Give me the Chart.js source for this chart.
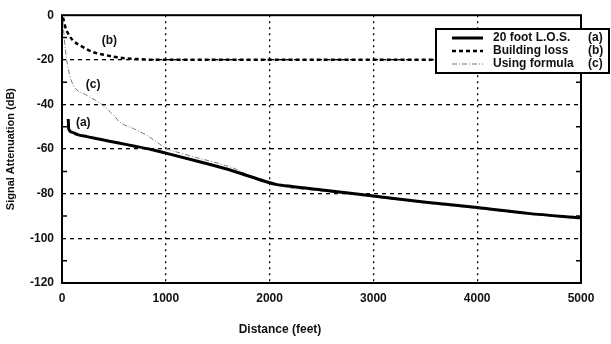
<!DOCTYPE html>
<html>
<head>
<meta charset="utf-8">
<title>Signal Attenuation vs Distance</title>
<script src="https://cdn.jsdelivr.net/npm/chart.js@4.4.1/dist/chart.umd.min.js"></script>
<style>
    html, body { margin: 0; padding: 0; background: #fff; }
    canvas { display: block; }
</style>
</head>
<body>
<canvas id="chart" width="611" height="344"></canvas>
<script>
const distanceA = [60, 65, 100, 150, 240, 390, 547, 703, 859, 1000, 1344, 1656, 1953, 2062, 2218, 2528, 3000, 3505, 4000, 4490, 5000];
const lossA = [-46.5, -51, -52.5, -53.5, -54.4, -55.8, -57.3, -58.7, -60.2, -61.8, -65.9, -69.9, -74.4, -75.8, -76.8, -78.4, -81, -83.8, -86.2, -88.8, -90.8];

const distanceB = [10, 30, 63, 110, 203, 297, 422, 547, 706, 900, 2000, 3000, 4000, 5000];
const lossB = [-1, -5, -8.6, -11.5, -14.3, -16.5, -17.9, -19, -19.6, -20, -20, -20, -20, -20];

const distanceC = [8, 25, 45, 75, 110, 235, 340, 406, 500, 560, 688, 812, 906, 1000, 1187, 1656, 1850, 2062, 2528, 3000, 3505, 4000, 4490, 5000];
const lossC = [-2, -12, -20, -27, -31.5, -35.8, -38.6, -40.8, -45, -48, -50.8, -53.7, -56.6, -59.5, -62.4, -68.6, -72.8, -76.2, -78.9, -81.4, -84.2, -86.6, -89.2, -91.1];

const seriesNames = ['20 foot L.O.S.', 'Building loss', 'Using formula'];
const seriesTags = ['(a)', '(b)', '(c)'];
// where the (a)/(b)/(c) notes sit, in feet and dB
const noteDistance = [205, 456, 300];
const noteLoss = [-48, -11.5, -31];

const xTicks = [0, 1000, 2000, 3000, 4000, 5000];
const yTicks = [0, -20, -40, -60, -80, -100, -120];
const yMinorTicks = [-10, -30, -50, -70, -90, -110];

const FONT = '"Liberation Sans", Arial, sans-serif';
const lineStyles = [
    { color: '#000', width: 3, dash: [] },
    { color: '#000', width: 2.5, dash: [4, 3] },
    { color: '#777', width: 1, dash: [5, 2, 1, 2] }
];

function toPoints(xs, ys) {
    return xs.map((x, i) => ({ x: x, y: ys[i] }));
}

const framePlugin = {
    id: 'frame',
    afterDraw(chart) {
        const ctx = chart.ctx;
        const area = chart.chartArea;
        const xs = chart.scales.x;
        const ys = chart.scales.y;
        ctx.save();

        ctx.strokeStyle = '#000';
        ctx.lineWidth = 2;
        ctx.setLineDash([]);
        ctx.strokeRect(area.left, area.top, area.right - area.left, area.bottom - area.top);

        ctx.lineWidth = 1.5;
        yMinorTicks.forEach(v => {
            const py = ys.getPixelForValue(v);
            ctx.beginPath();
            ctx.moveTo(area.left, py);
            ctx.lineTo(area.left + 5, py);
            ctx.moveTo(area.right, py);
            ctx.lineTo(area.right - 5, py);
            ctx.stroke();
        });

        ctx.fillStyle = '#111';
        ctx.font = `bold 12px ${FONT}`;
        ctx.textAlign = 'center';
        ctx.textBaseline = 'middle';
        seriesTags.forEach((tag, i) => {
            ctx.fillText(tag, xs.getPixelForValue(noteDistance[i]), ys.getPixelForValue(noteLoss[i]));
        });

        // legend box
        const boxLeft = 436, boxTop = 29, boxWidth = 173, rowHeight = 13;
        const boxHeight = rowHeight * 3 + 5;
        ctx.fillStyle = '#fff';
        ctx.fillRect(boxLeft, boxTop, boxWidth, boxHeight);
        ctx.lineWidth = 2;
        ctx.strokeStyle = '#000';
        ctx.strokeRect(boxLeft, boxTop, boxWidth, boxHeight);
        ctx.textAlign = 'left';
        seriesNames.forEach((name, i) => {
            const rowY = boxTop + 9 + i * rowHeight;
            const st = lineStyles[i];
            ctx.strokeStyle = st.color;
            ctx.lineWidth = st.width;
            ctx.setLineDash(st.dash);
            ctx.beginPath();
            ctx.moveTo(boxLeft + 16, rowY);
            ctx.lineTo(boxLeft + 47, rowY);
            ctx.stroke();
            ctx.fillStyle = '#111';
            ctx.fillText(name, boxLeft + 57, rowY);
            ctx.fillText(seriesTags[i], boxLeft + 152, rowY);
        });
        ctx.setLineDash([]);

        ctx.textAlign = 'center';
        ctx.fillText('Distance (feet)', 280, 330);
        ctx.restore();
    }
};

const datasets = [
    { label: seriesNames[0], data: toPoints(distanceA, lossA) },
    { label: seriesNames[1], data: toPoints(distanceB, lossB) },
    { label: seriesNames[2], data: toPoints(distanceC, lossC) }
].map((ds, i) => Object.assign(ds, {
    borderColor: lineStyles[i].color,
    borderWidth: lineStyles[i].width,
    borderDash: lineStyles[i].dash,
    pointRadius: 0,
    fill: false,
    cubicInterpolationMode: 'monotone'
}));

new Chart(document.getElementById('chart'), {
    type: 'line',
    data: { datasets: datasets },
    options: {
        responsive: false,
        animation: false,
        layout: { padding: { top: 10, right: 30, left: 0, bottom: 0 } },
        plugins: { legend: { display: false }, tooltip: { enabled: false } },
        scales: {
            x: {
                type: 'linear',
                min: 0,
                max: 5000,
                afterBuildTicks: scale => { scale.ticks = xTicks.map(v => ({ value: v })); },
                afterFit: scale => { scale.height = 61; },
                ticks: {
                    color: '#111',
                    font: { family: FONT, size: 12, weight: 'bold' },
                    padding: 8,
                    maxRotation: 0,
                    callback: value => String(value)
                },
                grid: {
                    drawTicks: false,
                    lineWidth: 1.3,
                    color: c => (c.tick.value === 0 || c.tick.value === 5000) ? 'rgba(0,0,0,0)' : '#000'
                },
                border: { display: false, dash: [2, 4] }
            },
            y: {
                type: 'linear',
                min: -120,
                max: 0,
                afterBuildTicks: scale => { scale.ticks = yTicks.map(v => ({ value: v })); },
                afterFit: scale => { scale.width = 62; },
                ticks: {
                    color: '#111',
                    font: { family: FONT, size: 12, weight: 'bold' },
                    padding: 8,
                    callback: value => String(value)
                },
                grid: {
                    drawTicks: false,
                    lineWidth: 1.3,
                    color: c => (c.tick.value === 0 || c.tick.value === -120) ? 'rgba(0,0,0,0)' : '#000'
                },
                border: { display: false, dash: [4, 4] },
                title: {
                    display: true,
                    text: 'Signal Attenuation (dB)',
                    color: '#111',
                    font: { family: FONT, size: 11, weight: 'bold' },
                    padding: { top: 4, bottom: 0 }
                }
            }
        }
    },
    plugins: [framePlugin]
});
</script>
</body>
</html>
